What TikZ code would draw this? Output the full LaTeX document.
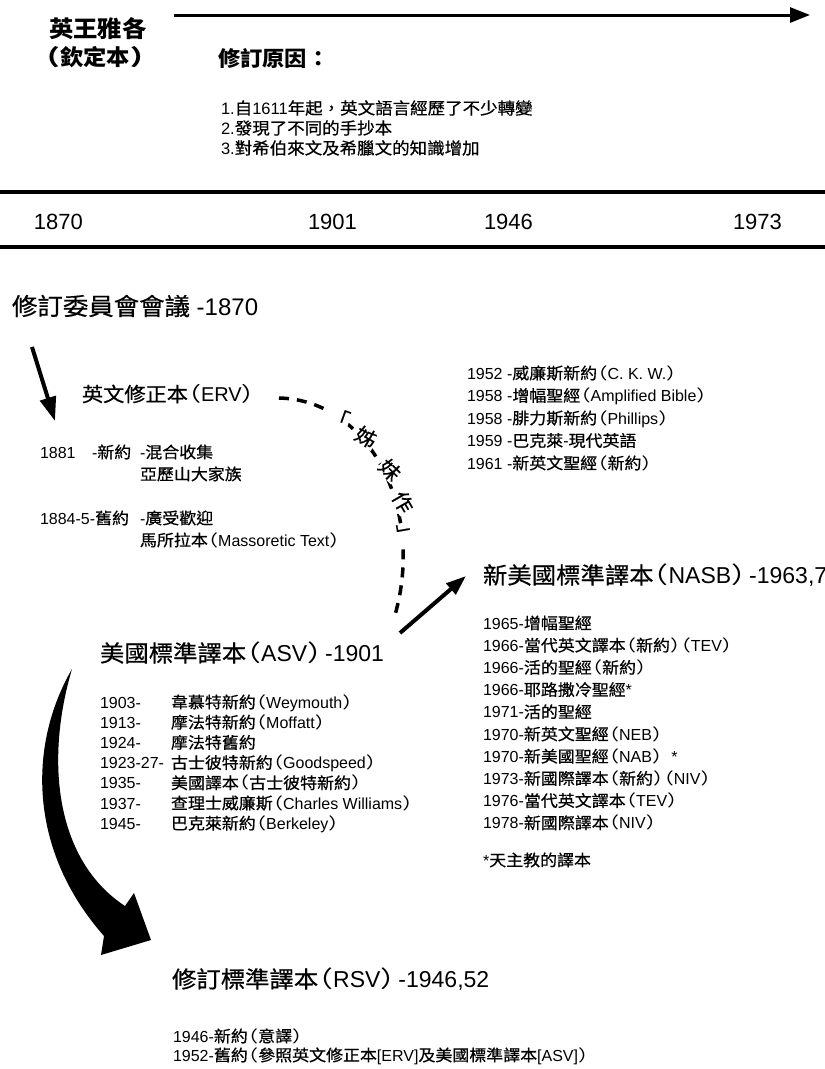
\documentclass[tikz,border=0pt]{standalone}
\usepackage{fontspec}
\setmainfont{Liberation Sans}
\newfontfamily\cjkfont{Noto Sans CJK TC}[FakeStretch=1.06, UprightFeatures={FakeBold=0.6}]
\newfontfamily\cjkpfont{Noto Sans CJK TC}[FakeStretch=1.3, CharacterWidth=AlternateHalf]
\usetikzlibrary{arrows.meta}
\XeTeXinterchartokenstate=1
\chardef\CJKcls=10
\chardef\OPcls=11
\chardef\CPcls=12
\newcount\cjkc
\cjkc="3000\relax
\loop
  \XeTeXcharclass\cjkc=\CJKcls
  \advance\cjkc by 1\relax
  \ifnum\cjkc<"A000\relax
\repeat
\cjkc="FF00\relax
\loop
  \XeTeXcharclass\cjkc=\CJKcls
  \advance\cjkc by 1\relax
  \ifnum\cjkc<"FFF0\relax
\repeat
\XeTeXcharclass"FF08=\OPcls
\XeTeXcharclass"FF09=\CPcls
% CJK runs
\XeTeXinterchartoks 0 \CJKcls = {\begingroup\cjkfont}
\XeTeXinterchartoks 4095 \CJKcls = {\begingroup\cjkfont}
\XeTeXinterchartoks \CJKcls 0 = {\endgroup}
\XeTeXinterchartoks \CJKcls 4095 = {\endgroup}
% brackets
\XeTeXinterchartoks 0 \OPcls = {\begingroup\cjkpfont}
\XeTeXinterchartoks 4095 \OPcls = {\begingroup\cjkpfont}
\XeTeXinterchartoks \CJKcls \OPcls = {\endgroup\begingroup\cjkpfont}
\XeTeXinterchartoks \OPcls 0 = {\endgroup}
\XeTeXinterchartoks \OPcls 4095 = {\endgroup}
\XeTeXinterchartoks \OPcls \CJKcls = {\endgroup\begingroup\cjkfont}
\XeTeXinterchartoks 0 \CPcls = {\begingroup\cjkpfont}
\XeTeXinterchartoks 4095 \CPcls = {\begingroup\cjkpfont}
\XeTeXinterchartoks \CJKcls \CPcls = {\endgroup\begingroup\cjkpfont}
\XeTeXinterchartoks \CPcls 0 = {\endgroup}
\XeTeXinterchartoks \CPcls 4095 = {\endgroup}
\XeTeXinterchartoks \CPcls \CJKcls = {\endgroup\begingroup\cjkfont}
\newcommand\gp{\kern3pt}
\tikzset{
  lbl/.style={inner sep=0pt, outer sep=0pt, anchor=west},
  sz/.style={lbl, font=\fontsize{#1}{#1}\selectfont, text height=0.88*#1 pt, text depth=0.12*#1 pt},
  bsz/.style={lbl, font=\fontsize{#1}{#1}\selectfont\bfseries, text height=0.88*#1 pt, text depth=0.12*#1 pt},
  listtxt/.style={sz=16},
  ttl/.style={sz=23},
  thickline/.style={line width=4.5pt},
  arr/.style={line width=4pt},
  curvechar/.style={inner sep=0.5pt, fill=white, font=\fontsize{20}{20}\selectfont},
}
\begin{document}
\begin{tikzpicture}[x=1pt,y=-1pt]
\useasboundingbox (0,0) rectangle (825,1069);
\fill[white] (0,0) rectangle (825,1069);

% ---- top section
\node[bsz=23] (kjv1) at (49,29) {英王雅各};
\node[bsz=22] (kjv2) at (46,57) {（欽定本）};
\coordinate (ta1) at (174,15);
\coordinate (ta2) at (810,15);
\draw[line width=3pt, -{Triangle[length=20pt,width=15pt]}] (ta1) -- (ta2);
\node[bsz=21] (why) at (218,59) {修訂原因：};
\node[sz=16.5] (why1) at (221,108) {1.自1611年起，英文語言經歷了不少轉變};
\node[sz=16.5] (why2) at (221,128) {2.發現了不同的手抄本};
\node[sz=16.5] (why3) at (221,148) {3.對希伯來文及希臘文的知識增加};

% ---- timeline
\coordinate (l1a) at (0,192); \coordinate (l1b) at (825,192);
\coordinate (l2a) at (0,247); \coordinate (l2b) at (825,247);
\draw[thickline] (l1a) -- (l1b);
\draw[thickline] (l2a) -- (l2b);
\node[sz=22] (y1870) at (34,221) {1870};
\node[sz=22] (y1901) at (308,221) {1901};
\node[sz=22] (y1946) at (484,221) {1946};
\node[sz=22] (y1973) at (733,221) {1973};

% ---- committee & ERV
\node[sz=24] (comm) at (12,306) {修訂委員會會議 -1870};
\coordinate (a1s) at (32,347);
\coordinate (a1e) at (55,421);
\draw[arr, -{Triangle[length=24pt,width=16pt]}] (a1s) -- (a1e);
\node[sz=20] (erv) at (82,394) {英文修正本（ERV）};
\node[listtxt] (e1a) at (40,452) {1881};
\node[listtxt] (e1b) at (92,452) {-新約};
\node[listtxt] (e1c) at (140,452) {-混合收集};
\node[listtxt] (e1d) at (140,474) {亞歷山大家族};
\node[listtxt] (e2a) at (40,518) {1884-5-舊約};
\node[listtxt] (e2c) at (140,518) {-廣受歡迎};
\node[listtxt] (e2d) at (140,540) {馬所拉本（Massoretic Text）};

% ---- dashed "sister work" curve
\coordinate (ds) at (279,398);
\coordinate (de) at (395,615);
\draw[line width=3.5pt, dash pattern=on 10pt off 8pt] (ds) .. controls (370,400) and (425,510) .. (de);
\node[curvechar, rotate=-20] (c1) at (339,417) {「};
\node[curvechar, rotate=-30] (c2) at (366,437) {姊};
\node[curvechar, rotate=-45] (c3) at (390,470) {妹};
\node[curvechar, rotate=-60] (c4) at (403,502) {作};
\node[curvechar, rotate=-80] (c5) at (404,534) {」};

% ---- right top list
\node[listtxt] (r1) at (467,373) {1952 -威廉斯新約（C. K. W.）};
\node[listtxt] (r2) at (467,395.5) {1958 -增幅聖經（Amplified Bible）};
\node[listtxt] (r3) at (467,418) {1958 -腓力斯新約（Phillips）};
\node[listtxt] (r4) at (467,440.5) {1959 -巴克萊-現代英語};
\node[listtxt] (r5) at (467,463) {1961 -新英文聖經（新約）};

% ---- NASB
\coordinate (a2s) at (400,633);
\coordinate (a2e) at (466,576);
\draw[arr, -{Triangle[length=20pt,width=14pt]}] (a2s) -- (a2e);
\node[ttl] (nasb) at (483,575) {新美國標準譯本（NASB）\gp-1963,7};
\foreach \t [count=\i from 0] in {1965-增幅聖經,1966-當代英文譯本（新約）（TEV）,1966-活的聖經（新約）,1966-耶路撒冷聖經*,1971-活的聖經,1970-新英文聖經（NEB）,1970-新美國聖經（NAB）\ \ *,1973-新國際譯本（新約）（NIV）,1976-當代英文譯本（TEV）,1978-新國際譯本（NIV）}
  \node[listtxt] (n\i) at (483,623+22.2*\i) {\t};
\node[listtxt] (note) at (483,860) {*天主教的譯本};

% ---- ASV
\node[ttl] (asv) at (100,653) {美國標準譯本（ASV）\gp-1901};
\foreach \t [count=\i from 0] in {1903-,1913-,1924-,1923-27-,1935-,1937-,1945-}
  \node[listtxt] (ay\i) at (100,702+20.2*\i) {\t};
\foreach \t [count=\i from 0] in {韋慕特新約（Weymouth）,摩法特新約（Moffatt）,摩法特舊約,古士彼特新約（Goodspeed）,美國譯本（古士彼特新約）,查理士威廉斯（Charles Williams）,巴克萊新約（Berkeley）}
  \node[listtxt] (ae\i) at (171,702+20.2*\i) {\t};

% ---- big curved arrow
\fill[black] (72,669) .. controls (28,745) and (28,850) .. (104,936)
  -- (101,955) -- (151,940) -- (134,893) -- (125,906)
  .. controls (55,860) and (45,760) .. (72,669) -- cycle;

% ---- RSV
\node[ttl] (rsv) at (172,979) {修訂標準譯本（RSV）\gp-1946,52};
\node[listtxt] (rs1) at (173,1036) {1946-新約（意譯）};
\node[listtxt] (rs2) at (173,1055) {1952-舊約（參照英文修正本[ERV]及美國標準譯本[ASV]）};
\end{tikzpicture}
\end{document}
